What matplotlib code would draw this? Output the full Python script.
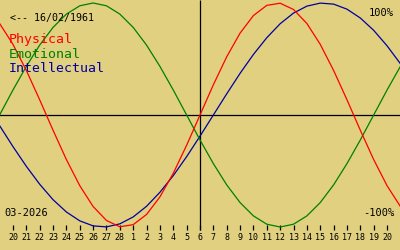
import matplotlib

matplotlib.use("Agg")
import matplotlib.pyplot as plt

# day offsets from the marked date (06/03), 19 Feb .. 21 Mar
days = list(range(-15, 16))
tick_days = list(range(-14, 15))
tick_labels = ["20", "21", "22", "23", "24", "25", "26", "27", "28",
               "1", "2", "3", "4", "5", "6", "7", "8", "9", "10",
               "11", "12", "13", "14", "15", "16", "17", "18", "19", "20"]

physical = [0.817, 0.631, 0.398, 0.136, -0.136, -0.398, -0.631, -0.817,
            -0.942, -0.998, -0.979, -0.888, -0.731, -0.520, -0.270, 0.0,
            0.270, 0.520, 0.731, 0.888, 0.979, 0.998, 0.942, 0.817,
            0.631, 0.398, 0.136, -0.136, -0.398, -0.631, -0.817]
emotional = [0.0, 0.223, 0.434, 0.624, 0.782, 0.901, 0.975, 1.0,
             0.975, 0.901, 0.782, 0.624, 0.434, 0.223, 0.0, -0.223,
             -0.434, -0.624, -0.782, -0.901, -0.975, -1.0, -0.975, -0.901,
             -0.782, -0.624, -0.434, -0.223, 0.0, 0.223, 0.434]
intellectual = [-0.095, -0.282, -0.458, -0.618, -0.756, -0.866, -0.945, -0.990,
                -0.999, -0.972, -0.910, -0.815, -0.690, -0.541, -0.372, -0.189,
                0.0, 0.189, 0.372, 0.541, 0.690, 0.815, 0.910, 0.972,
                0.999, 0.990, 0.945, 0.866, 0.756, 0.618, 0.458]

BG = "#e0d080"
RED = "#ff0000"
GREEN = "#008000"
BLUE = "#0000a0"
FONT = "DejaVu Sans Mono"

PX_PER_UNIT = 112.0
ZERO_PX = 115.0


def yval(px):
    # pixel row from top -> data value
    return (ZERO_PX - px) / PX_PER_UNIT


fig = plt.figure(figsize=(4, 2.5), dpi=100, facecolor=BG)
ax = fig.add_axes([0, 0, 1, 1])
ax.set_facecolor(BG)
ax.set_xlim(-14.97, 14.97)
ax.set_ylim(yval(250), yval(0))
ax.axis("off")

ax.axhline(0, color="black", lw=0.9)
ax.vlines(0, yval(230), yval(0), color="black", lw=0.9)
ax.vlines(tick_days, yval(230), yval(225), color="black", lw=0.9)
for d, lab in zip(tick_days, tick_labels):
    ax.text(d, yval(240.5), lab, ha="center", va="baseline", fontsize=6,
            family=FONT, color="black")

ax.plot(days, intellectual, color=BLUE, lw=0.9)
ax.plot(days, emotional, color=GREEN, lw=0.9)
ax.plot(days, physical, color=RED, lw=0.9)


def ftext(x, y, s, **kw):
    fig.text(x / 400, 1 - y / 250, s, va="baseline", family=FONT, **kw)


ftext(10, 20.5, "<-- 16/02/1961", fontsize=7.2, color="black")
ftext(9, 42.5, "Physical", fontsize=9.5, color=RED)
ftext(9, 57.5, "Emotional", fontsize=9.5, color=GREEN)
ftext(9, 72.5, "Intellectual", fontsize=9.5, color=BLUE)
ftext(394, 16, "100%", fontsize=7.5, color="black", ha="right")
ftext(394, 216, "-100%", fontsize=7.5, color="black", ha="right")
ftext(4, 216, "03-2026", fontsize=7.5, color="black")

fig.savefig("out.png", dpi=100, facecolor=BG)
